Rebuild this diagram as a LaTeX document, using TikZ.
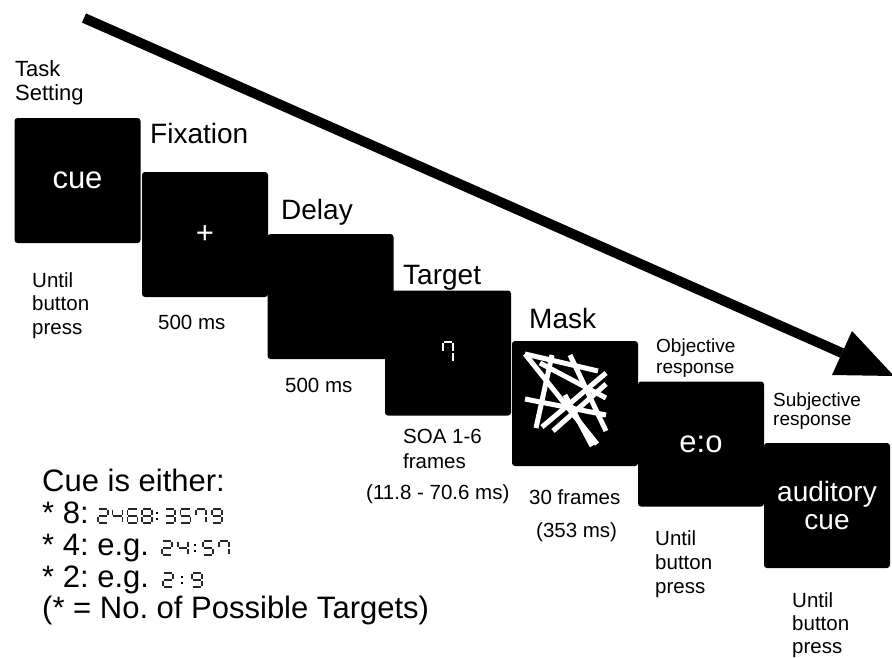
\documentclass[tikz,border=0pt]{standalone}
\usepackage{fontspec}
\setmainfont{Liberation Sans}
\frenchspacing
\newcommand{\segdig}[3]{%
  \begin{scope}[shift={#1},#3]
  \foreach \s in {#2}{%
    \ifcase\s\relax
      \draw[segline] (0.6,-14)--(9.4,-14);%
    \or \draw[segline] (10,-13.4)--(10,-7.6);%
    \or \draw[segline] (10,-6.4)--(10,-0.6);%
    \or \draw[segline] (0.6,0)--(9.4,0);%
    \or \draw[segline] (0,-6.4)--(0,-0.6);%
    \or \draw[segline] (0,-13.4)--(0,-7.6);%
    \or \draw[segline] (0.6,-7)--(9.4,-7);%
    \fi}
  \end{scope}}
\newcommand{\segcolon}[1]{%
  \begin{scope}[shift={#1}]
  \fill (-1,-11) rectangle (1,-9);
  \fill (-1,-5) rectangle (1,-3);
  \end{scope}}
\tikzset{
  scr/.style={fill=black, rounded corners=3pt, minimum width=126pt, minimum height=125pt,
    inner sep=0pt, text=white, font=\fontsize{31}{31}\selectfont},
  head/.style={anchor=base west, font=\fontsize{28}{32}\selectfont, inner sep=0pt},
  lab/.style={anchor=base west, font=\fontsize{20.5}{23.5}\selectfont, inner sep=0pt, align=left},
  smalllab/.style={anchor=base west, font=\fontsize{19}{21}\selectfont, inner sep=0pt, align=left},
  cuelist/.style={anchor=base west, font=\fontsize{31}{32}\selectfont, inner sep=0pt},
  segline/.style={line width=1.8pt, black!85},
  maskline/.style={white, line width=5pt},
}
\begin{document}
\begin{tikzpicture}[x=1pt, y=-1pt]
\useasboundingbox (0,0) rectangle (892,657);

% big time arrow
\coordinate (arrS) at (84,18);
\coordinate (arrB) at (842,353);
\coordinate (arrT) at (894,376);
\coordinate (arrB1) at (852,331);
\coordinate (arrB2) at (832,375);
\draw[line width=10pt] (arrS) -- (arrB);
\fill (arrT) -- (arrB1) -- (arrB2) -- cycle;

% screens
\node[scr] (b1) at (77.5,180.5) {cue};
\node[scr] (b2) at (205,234.5) {+};
\node[scr] (b3) at (330.5,296.5) {};
\node[scr] (b4) at (448,353) {};
\node[scr] (b5) at (575,403.5) {};
\node[scr] (b6) at (701,444) {e:o};
\node[scr, align=center, font=\fontsize{28}{28}\selectfont] (b7) at (827,505.5) {auditory\\cue};

% target digit
\segdig{(443,362)}{0,1,2,5}{yscale=1.43, segline/.style={white, line width=1.6pt}}

% mask
\begin{scope}
\draw[maskline] (525,354) -- (597,444);
\draw[maskline] (525,354) -- (598,371);
\draw[maskline] (552,355) -- (536,428);
\draw[maskline] (570,355) -- (606,431);
\draw[maskline] (606,373) -- (542,427);
\draw[maskline] (606,384) -- (553,431);
\draw[maskline] (525,399) -- (606,415);
\draw[maskline] (540,363) -- (606,398);
\draw[maskline] (565,395) -- (592,446);
\end{scope}

% headings (base anchor = baseline of last line)
\node[lab, font=\fontsize{22}{24}\selectfont] (task) at (15,100) {Task\\Setting};
\node[head] (hfix) at (150,143) {Fixation};
\node[head] (hdel) at (281,219) {Delay};
\node[head] (htar) at (403,284) {Target};
\node[head] (hmask) at (529,328) {Mask};
\node[smalllab] (hobj) at (656,373) {Objective\\response};
\node[smalllab, font=\fontsize{19}{19.5}\selectfont] (hsub) at (773,425.5) {Subjective\\response};

% durations
\node[lab] (d1) at (32,334) {Until\\button\\press};
\node[lab] (d2) at (158,329) {500 ms};
\node[lab] (d3) at (285,392) {500 ms};
\node[lab, font=\fontsize{20.5}{24.5}\selectfont] (d4) at (403,468) {SOA 1-6\\frames};
\node[lab] (d4b) at (366,499) {(11.8 - 70.6 ms)};
\node[lab] (d5) at (529,504) {30 frames};
\node[lab] (d5b) at (536,537) {(353 ms)};
\node[lab, font=\fontsize{20.5}{24}\selectfont] (d6) at (655,593) {Until\\button\\press};
\node[lab, font=\fontsize{20.5}{23}\selectfont] (d7) at (792,653) {Until\\button\\press};

% cue list
\node[cuelist] (c0) at (42,491) {Cue is either:};
\node[cuelist] (c1) at (42,523) {* 8:};
\node[cuelist] (c2) at (42,555) {* 4: e.g.};
\node[cuelist] (c3) at (42,587) {* 2: e.g.};
\node[cuelist] (c4) at (42,618) {(* = No. of Possible Targets)};

% row 1: 2468:3579
\segdig{(98,523)}{0,1,6,4,3}{}
\segdig{(112.5,523)}{5,6,1,2}{}
\segdig{(127.5,523)}{0,5,6,4,3,2}{}
\segdig{(142,523)}{0,1,2,3,4,5,6}{}
\segcolon{(156.5,523)}
\segdig{(165,523)}{0,1,6,2,3}{}
\segdig{(180.5,523)}{0,5,6,2,3}{}
\segdig{(196,523)}{0,1,2,5}{}
\segdig{(212,523)}{0,1,2,3,5,6}{}
% row 2: 24:57
\segdig{(162,555)}{0,1,6,4,3}{}
\segdig{(178,555)}{5,6,1,2}{}
\segcolon{(195,555)}
\segdig{(203,555)}{0,5,6,2,3}{}
\segdig{(219,555)}{0,1,2,5}{}
% row 3: 2:9
\segdig{(163,587)}{0,1,6,4,3}{}
\segcolon{(182,587)}
\segdig{(192,587)}{0,1,2,3,5,6}{}
\end{tikzpicture}
\end{document}
